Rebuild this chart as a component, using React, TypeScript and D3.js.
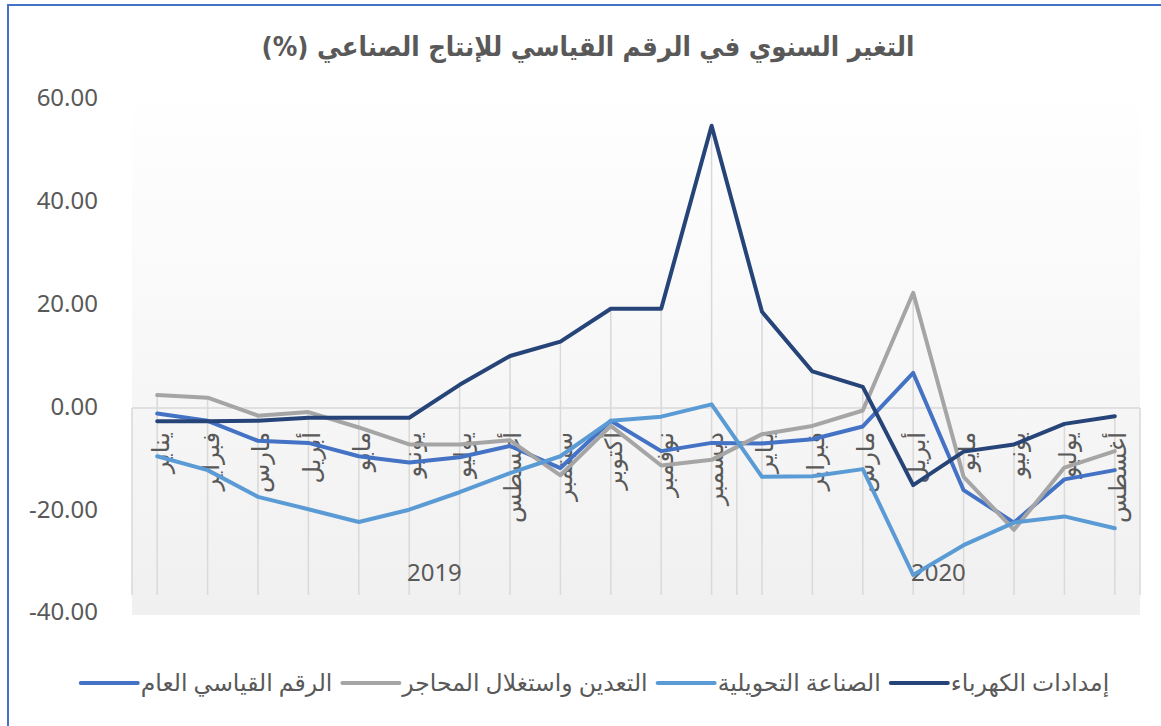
import { useEffect, useRef } from 'react';
import * as d3 from 'd3';

const months2019 = ['يناير', 'فبراير', 'مارس', 'أبريل', 'مايو', 'يونيو', 'يوليو', 'أغسطس', 'سبتمبر', 'أكتوبر', 'نوفمبر', 'ديسمبر'];
const months2020 = ['يناير', 'فبراير', 'مارس', 'أبريل', 'مايو', 'يونيو', 'يوليو', 'أغسطس'];
const years = ['2019', '2020'];
const yTicks = [-40, -20, 0, 20, 40, 60];

const generalIndex = [-1.4, -2.8, -6.7, -7.1, -9.7, -10.9, -9.9, -7.7, -12.0, -2.8, -8.7, -7.1, -7.2, -6.4, -3.9, 6.5, -16.3, -22.6, -14.2, -12.4];
const mining = [2.2, 1.7, -1.8, -1.1, -4.1, -7.4, -7.4, -6.6, -13.4, -3.8, -11.5, -10.4, -5.4, -3.8, -0.8, 22.1, -13.7, -24.0, -11.9, -8.7];
const manufacturing = [-9.7, -12.4, -17.6, -20.0, -22.5, -20.1, -16.7, -13.0, -9.7, -2.8, -2.0, 0.4, -13.7, -13.6, -12.2, -32.8, -27.0, -22.6, -21.4, -23.7];
const electricity = [-2.9, -2.9, -2.8, -2.2, -2.2, -2.2, 4.2, 9.8, 12.6, 19.0, 19.0, 54.6, 18.4, 6.8, 3.8, -15.3, -8.8, -7.4, -3.4, -1.9];

const series = [
  { name: 'الرقم القياسي العام', values: generalIndex, color: '#4472C4' },
  { name: 'التعدين واستغلال المحاجر', values: mining, color: '#A5A5A5' },
  { name: 'الصناعة التحويلية', values: manufacturing, color: '#5B9BD5' },
  { name: 'إمدادات الكهرباء', values: electricity, color: '#264478' },
];

const FONT = "'Noto Sans', 'DejaVu Sans', sans-serif";
const TEXT = '#595959';
const GRID = '#d9d9d9';

const App = () => {
  const svgRef = useRef<SVGSVGElement>(null);

  useEffect(() => {
    const svg = d3.select(svgRef.current);
    svg.selectAll('*').remove();

    const W = 1161;
    const H = 726;
    const left = 132;
    const right = 1140;
    const axisBottom = 595;

    const categories = [
      ...months2019.map((m, i) => ({ key: `2019-${i}`, label: m, year: years[0] })),
      ...months2020.map((m, i) => ({ key: `2020-${i}`, label: m, year: years[1] })),
    ];

    const x = d3
      .scaleBand()
      .domain(categories.map((c) => c.key))
      .range([left, right]);
    const cx = (i: number) => x(categories[i].key)! + x.bandwidth() / 2;

    const y = d3.scaleLinear().domain([-40, 60]).range([612, 98]);

    // background + frame
    svg.append('rect').attr('width', W).attr('height', H).attr('fill', '#fff');
    svg
      .append('path')
      .attr('d', `M8,${H + 5} L8,5 L${W + 5},5`)
      .attr('fill', 'none')
      .attr('stroke', '#4472C4')
      .attr('stroke-width', 2);

    const defs = svg.append('defs');
    const grad = defs
      .append('linearGradient')
      .attr('id', 'plotGrad')
      .attr('x1', 0)
      .attr('y1', 0)
      .attr('x2', 0)
      .attr('y2', 1);
    grad.append('stop').attr('offset', '0%').attr('stop-color', '#ffffff');
    grad.append('stop').attr('offset', '100%').attr('stop-color', '#f0f0f0');

    svg
      .append('rect')
      .attr('x', left)
      .attr('y', y(60) - 10)
      .attr('width', right - left)
      .attr('height', 615 - (y(60) - 10))
      .attr('fill', 'url(#plotGrad)');

    // title
    svg
      .append('text')
      .attr('x', 588)
      .attr('y', 46)
      .attr('direction', 'rtl')
      .attr('text-anchor', 'middle')
      .attr('dominant-baseline', 'central')
      .attr('font-family', "'DejaVu Sans', sans-serif")
      .attr('font-weight', 'bold')
      .attr('font-size', 27)
      .attr('fill', TEXT)
      .attr('textLength', 653)
      .attr('lengthAdjust', 'spacingAndGlyphs')
      .text('التغير السنوي في الرقم القياسي للإنتاج الصناعي (%)');

    // y labels
    const fmt = d3.format('.2f');
    svg
      .append('g')
      .selectAll('text')
      .data(yTicks)
      .enter()
      .append('text')
      .attr('x', 98)
      .attr('y', (d) => y(d))
      .attr('dy', '0.35em')
      .attr('text-anchor', 'end')
      .attr('font-family', FONT)
      .attr('font-size', 24)
      .attr('fill', TEXT)
      .text((d) => fmt(d).replace('−', '-'));

    // category axis frame
    const zeroY = y(0) + 1.5;
    const axisG = svg.append('g').attr('stroke', GRID).attr('stroke-width', 1.5);
    axisG.append('line').attr('x1', left).attr('x2', right).attr('y1', zeroY).attr('y2', zeroY);
    const yearBounds = [left, x(`2020-0`)!, right];
    axisG
      .selectAll('line.sep')
      .data(yearBounds)
      .enter()
      .append('line')
      .attr('class', 'sep')
      .attr('x1', (d) => d)
      .attr('x2', (d) => d)
      .attr('y1', zeroY)
      .attr('y2', axisBottom);

    // drop lines
    axisG
      .selectAll('line.drop')
      .data(categories)
      .enter()
      .append('line')
      .attr('class', 'drop')
      .attr('x1', (_, i) => cx(i))
      .attr('x2', (_, i) => cx(i))
      .attr('y1', (_, i) => y(d3.max(series, (s) => s.values[i])!))
      .attr('y2', axisBottom);

    // month labels
    svg
      .append('g')
      .selectAll('text')
      .data(categories)
      .enter()
      .append('text')
      .attr('transform', (_, i) => `translate(${cx(i) + 3},432) rotate(-90)`)
      .attr('text-anchor', 'end')
      .attr('dy', '0.35em')
      .attr('font-family', FONT)
      .attr('font-size', 24)
      .attr('fill', TEXT)
      .text((d) => d.label);

    // year labels
    svg
      .append('g')
      .selectAll('text')
      .data(years)
      .enter()
      .append('text')
      .attr('x', (_, k) => (yearBounds[k] + yearBounds[k + 1]) / 2)
      .attr('y', 573)
      .attr('dy', '0.35em')
      .attr('text-anchor', 'middle')
      .attr('font-family', FONT)
      .attr('font-size', 24)
      .attr('fill', TEXT)
      .text((d) => d);

    // series lines
    const line = d3
      .line<number>()
      .x((_, i) => cx(i))
      .y((d) => y(d));

    svg
      .append('g')
      .selectAll('path')
      .data(series)
      .enter()
      .append('path')
      .attr('d', (s) => line(s.values))
      .attr('fill', 'none')
      .attr('stroke', (s) => s.color)
      .attr('stroke-width', 4)
      .attr('stroke-linejoin', 'round')
      .attr('stroke-linecap', 'round');

    // legend, right-to-left, centred
    const legY = 683;
    const swatch = 57;
    const gap = 3;
    const itemGap = 10;
    const legend = svg.append('g');
    const items = [...series].reverse().map((s) => {
      const g = legend.append('g');
      const t = g
        .append('text')
        .attr('y', legY)
        .attr('dy', '0.35em')
        .attr('text-anchor', 'end')
        .attr('font-family', FONT)
        .attr('font-size', 23.5)
        .attr('fill', TEXT)
        .text(s.name);
      const w = (t.node() as SVGTextElement).getComputedTextLength();
      return { s, g, t, w };
    });
    const total = d3.sum(items, (d) => d.w + gap + swatch) + itemGap * (items.length - 1);
    let cursor = 595 + total / 2;
    items.forEach((it) => {
      it.t.attr('x', cursor);
      const lineEnd = cursor - it.w - gap;
      it.g
        .append('line')
        .attr('x1', lineEnd - swatch)
        .attr('x2', lineEnd)
        .attr('y1', legY)
        .attr('y2', legY)
        .attr('stroke', it.s.color)
        .attr('stroke-width', 4)
        .attr('stroke-linecap', 'round');
      cursor = lineEnd - swatch - itemGap;
    });
  }, []);

  return (
    <svg
      ref={svgRef}
      width={1161}
      height={726}
      style={{ position: 'absolute', left: 0, top: 0, display: 'block' }}
    />
  );
};

export default App;
